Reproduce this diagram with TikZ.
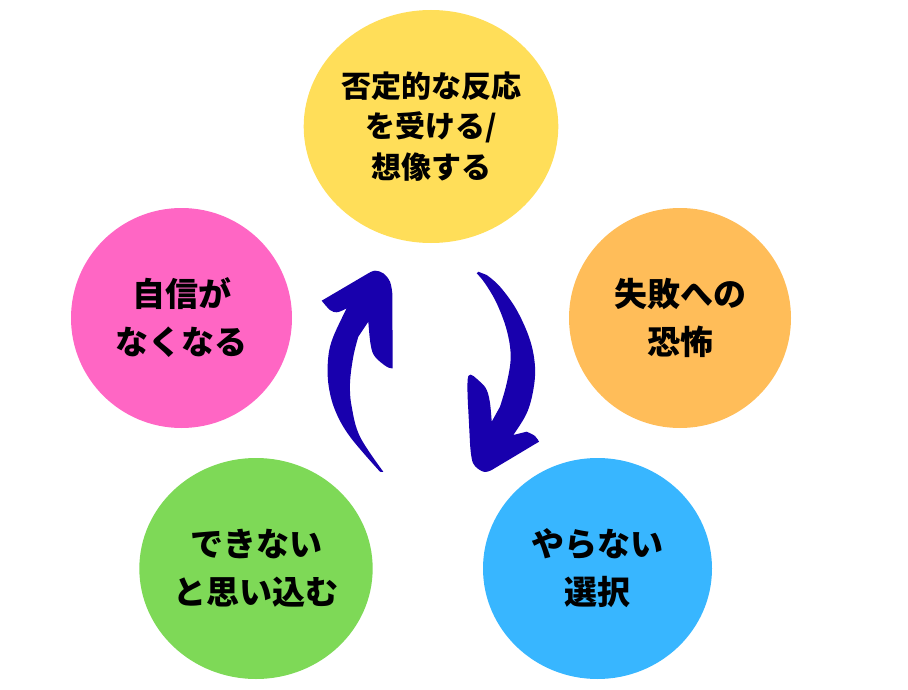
\documentclass[tikz,border=0pt]{standalone}
\usepackage{fontspec}
\usepackage{tikz}
\usetikzlibrary{shapes.geometric}
\newfontfamily\jp{Noto Sans CJK JP}
\definecolor{ylw}{HTML}{FFDE59}
\definecolor{org}{HTML}{FFBD59}
\definecolor{pnk}{HTML}{FF66C4}
\definecolor{grn}{HTML}{7ED957}
\definecolor{blu}{HTML}{38B6FF}
\definecolor{arr}{HTML}{1800AD}
\tikzset{
  bubble/.style={ellipse, inner sep=0pt, align=center, text=black,
    font=\jp\bfseries\fontsize{33}{48}\selectfont},
  swoosh/.style={fill=arr, draw=none}
}

\begin{document}
\begin{tikzpicture}[x=1pt,y=-1pt]

	\useasboundingbox (0,0) rectangle (908,690);

	\node[bubble, fill=ylw, minimum width=242pt, minimum height=233pt,
	      font=\jp\bfseries\fontsize{30}{40.5}\selectfont] (denial) at (431,126.5)
	      {否定的な反応\\を受ける/\\想像する};
	\node[bubble, fill=org, minimum width=222pt, minimum height=220pt] (fear) at (680,318)
	      {失敗への\\恐怖};
	\node[bubble, fill=blu, minimum width=229pt, minimum height=221pt] (avoid) at (597.5,568.5)
	      {やらない\\選択};
	\node[bubble, fill=grn, minimum width=230pt, minimum height=221pt] (cannot) at (256,568.5)
	      {できない\\と思い込む};
	\node[bubble, fill=pnk, minimum width=221pt, minimum height=220pt] (selfdoubt) at (181.5,318)
	      {自信が\\なくなる};

	% upward arrow
	\coordinate (upTail) at (382,472);
	\coordinate (upTip) at (375,270.7);
	\fill[swoosh] (upTail)
		-- plot[smooth, tension=.6] coordinates {(380,471.7) (350,436.7) (335,410) (328.3,383.3) (328.3,356.7) (333.3,336.7) (346.7,308.3)}
		-- plot[smooth, tension=.6] coordinates {(343.3,310) (336.7,312.3) (330,310) (321.7,300.7)}
		-- plot[smooth, tension=.6] coordinates {(368.3,273.3) (upTip) (383.3,273.3) (390,281.7) (392.3,293.3)}
		-- plot[smooth, tension=.6] coordinates {(392.7,368.3) (386.7,366.7) (375,356.7) (370.7,345) (368.3,321.7)}
		-- plot[smooth, tension=.6] coordinates {(358.3,336.7) (353.3,356.7) (350,383.3) (351.7,406.7) (360,436.7) (383.3,471.7)}
		-- cycle;

	% downward arrow
	\coordinate (downTail) at (478.3,271.7);
	\coordinate (downTip) at (483.3,471.7);
	\fill[swoosh] (downTail)
		-- plot[smooth, tension=.6] coordinates {(486.7,275) (500,286.7) (516.7,310) (530,340) (535,366.7) (533.3,390) (526.7,413.3) (513.3,435)}
		-- plot[smooth, tension=.6] coordinates {(526.7,431.7) (535,436) (539,441.7)}
		-- plot[smooth, tension=.6] coordinates {(491.7,470) (downTip) (473,463) (470,443)}
		-- plot[smooth, tension=.6] coordinates {(468.3,410) (468.3,376) (480,381.7) (486.7,390) (490,403) (491.7,421.7)}
		-- plot[smooth, tension=.6] coordinates {(500,406.7) (506.7,383.3) (510.7,356.7) (506.7,330) (496.7,303.3) (485,283.3) (476.7,273.3)}
		-- cycle;

\end{tikzpicture}
\end{document}
